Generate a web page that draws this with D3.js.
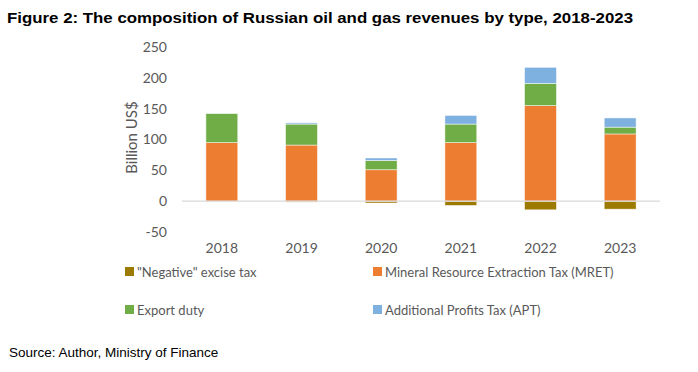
<!DOCTYPE html>
<html>
<head>
<meta charset="utf-8">
<script src="https://cdn.jsdelivr.net/npm/d3@7"></script>
<style>
  body { margin: 0; background: #fff; }
</style>
</head>
<body>
<div class="container"></div>
<script>
/*
    Data (billion US$)
*/
const years = ["2018", "2019", "2020", "2021", "2022", "2023"];
const negative_excise = [0, -1.5, -3, -7, -14, -13];
const mret = [95, 91, 51, 95, 155, 109];
const export_duty = [47, 34, 15, 30, 36, 11];
const apt = [0, 2, 4, 14, 26, 15];
const y_ticks = [-50, 0, 50, 100, 150, 200, 250];

const series_names = ['"Negative" excise tax', "Mineral Resource Extraction Tax (MRET)", "Export duty", "Additional Profits Tax (APT)"];
const series_colors = ["#9C7A00", "#ED7D31", "#70AD47", "#7EB0E0"];

/*
    Configuration variables
*/
const width = 698, height = 372;
const plot = { left: 182, right: 660, top: 47, bottom: 232 };
const chart_font = "Lato, 'Liberation Sans', sans-serif";
const title_font = "'Liberation Sans', Arial, sans-serif";

const svg = d3.select(".container").append("svg")
    .attr("width", width)
    .attr("height", height);

svg.append("text")
    .attr("x", 7).attr("y", 23)
    .attr("font-family", title_font)
    .attr("font-size", 14.5).attr("font-weight", "bold")
    .attr("fill", "#000")
    .attr("textLength", 626).attr("lengthAdjust", "spacingAndGlyphs")
    .text("Figure 2: The composition of Russian oil and gas revenues by type, 2018-2023");

let xScale = d3.scaleBand()
    .domain(years)
    .range([plot.left, plot.right])
    .paddingInner(0.6)
    .paddingOuter(0.3);

let yScale = d3.scaleLinear()
    .domain([-50, 250])
    .range([plot.bottom, plot.top]);

/* y axis labels (plain hyphen for negatives, as in the source) */
let yAxis = d3.axisLeft(yScale).tickValues(y_ticks).tickFormat(d => String(d)).tickSize(0).tickPadding(15);
let yg = svg.append("g")
    .attr("transform", `translate(${plot.left},0)`)
    .call(yAxis);
yg.select(".domain").remove();
yg.selectAll("text")
    .attr("font-size", 14).attr("fill", "#595959")
    .attr("font-family", chart_font);

svg.append("text")
    .attr("transform", `translate(137,${(plot.top + plot.bottom) / 2 - 2}) rotate(-90)`)
    .attr("text-anchor", "middle")
    .attr("font-size", 15).attr("fill", "#595959")
    .attr("font-family", chart_font)
    .text("Billion US$");

/* stacked bars: positives stacked up from 0, negatives down */
const rows = years.map((y, i) => ({ year: y, neg: negative_excise[i], mret: mret[i], exp: export_duty[i], apt: apt[i] }));
const keys = ["neg", "mret", "exp", "apt"];
const stacked = d3.stack().keys(keys).offset(d3.stackOffsetDiverging)(rows);

svg.append("g").selectAll("g")
    .data(stacked)
    .join("g")
    .attr("fill", (d, i) => series_colors[i])
    .selectAll("rect")
    .data(d => d.filter(v => v[1] - v[0] !== 0))
    .join("rect")
    .attr("x", d => xScale(d.data.year))
    .attr("width", xScale.bandwidth())
    .attr("y", d => yScale(d[1]))
    .attr("height", d => yScale(d[0]) - yScale(d[1]))
    .attr("stroke", "#fff")
    .attr("stroke-opacity", 0.6)
    .attr("stroke-width", 0.8);

/* zero line */
svg.append("line")
    .attr("x1", plot.left).attr("x2", plot.right)
    .attr("y1", yScale(0)).attr("y2", yScale(0))
    .attr("stroke", "#D9D9D9").attr("stroke-width", 1.2);

/* x labels */
let xAxis = d3.axisBottom(xScale).tickSize(0).tickPadding(0);
let xg = svg.append("g")
    .attr("transform", `translate(0,${plot.bottom + 11})`)
    .call(xAxis);
xg.select(".domain").remove();
xg.selectAll("text")
    .attr("font-size", 14).attr("fill", "#595959")
    .attr("font-family", chart_font);

/* legend */
const legend_pos = [[125, 272], [373, 272], [125, 310], [373, 310]];
const legend = svg.append("g").selectAll("g")
    .data(series_names)
    .join("g")
    .attr("transform", (d, i) => `translate(${legend_pos[i][0]},${legend_pos[i][1]})`);
legend.append("rect")
    .attr("x", 0).attr("y", -5).attr("width", 9).attr("height", 9)
    .attr("fill", (d, i) => series_colors[i]);
legend.append("text")
    .attr("x", 12).attr("y", 0).attr("dy", "0.35em")
    .attr("font-size", 13).attr("fill", "#595959")
    .attr("font-family", chart_font)
    .text(d => d);

svg.append("text")
    .attr("x", 9).attr("y", 357)
    .attr("font-family", title_font)
    .attr("font-size", 13.5).attr("fill", "#000")
    .text("Source: Author, Ministry of Finance");
</script>
</body>
</html>
